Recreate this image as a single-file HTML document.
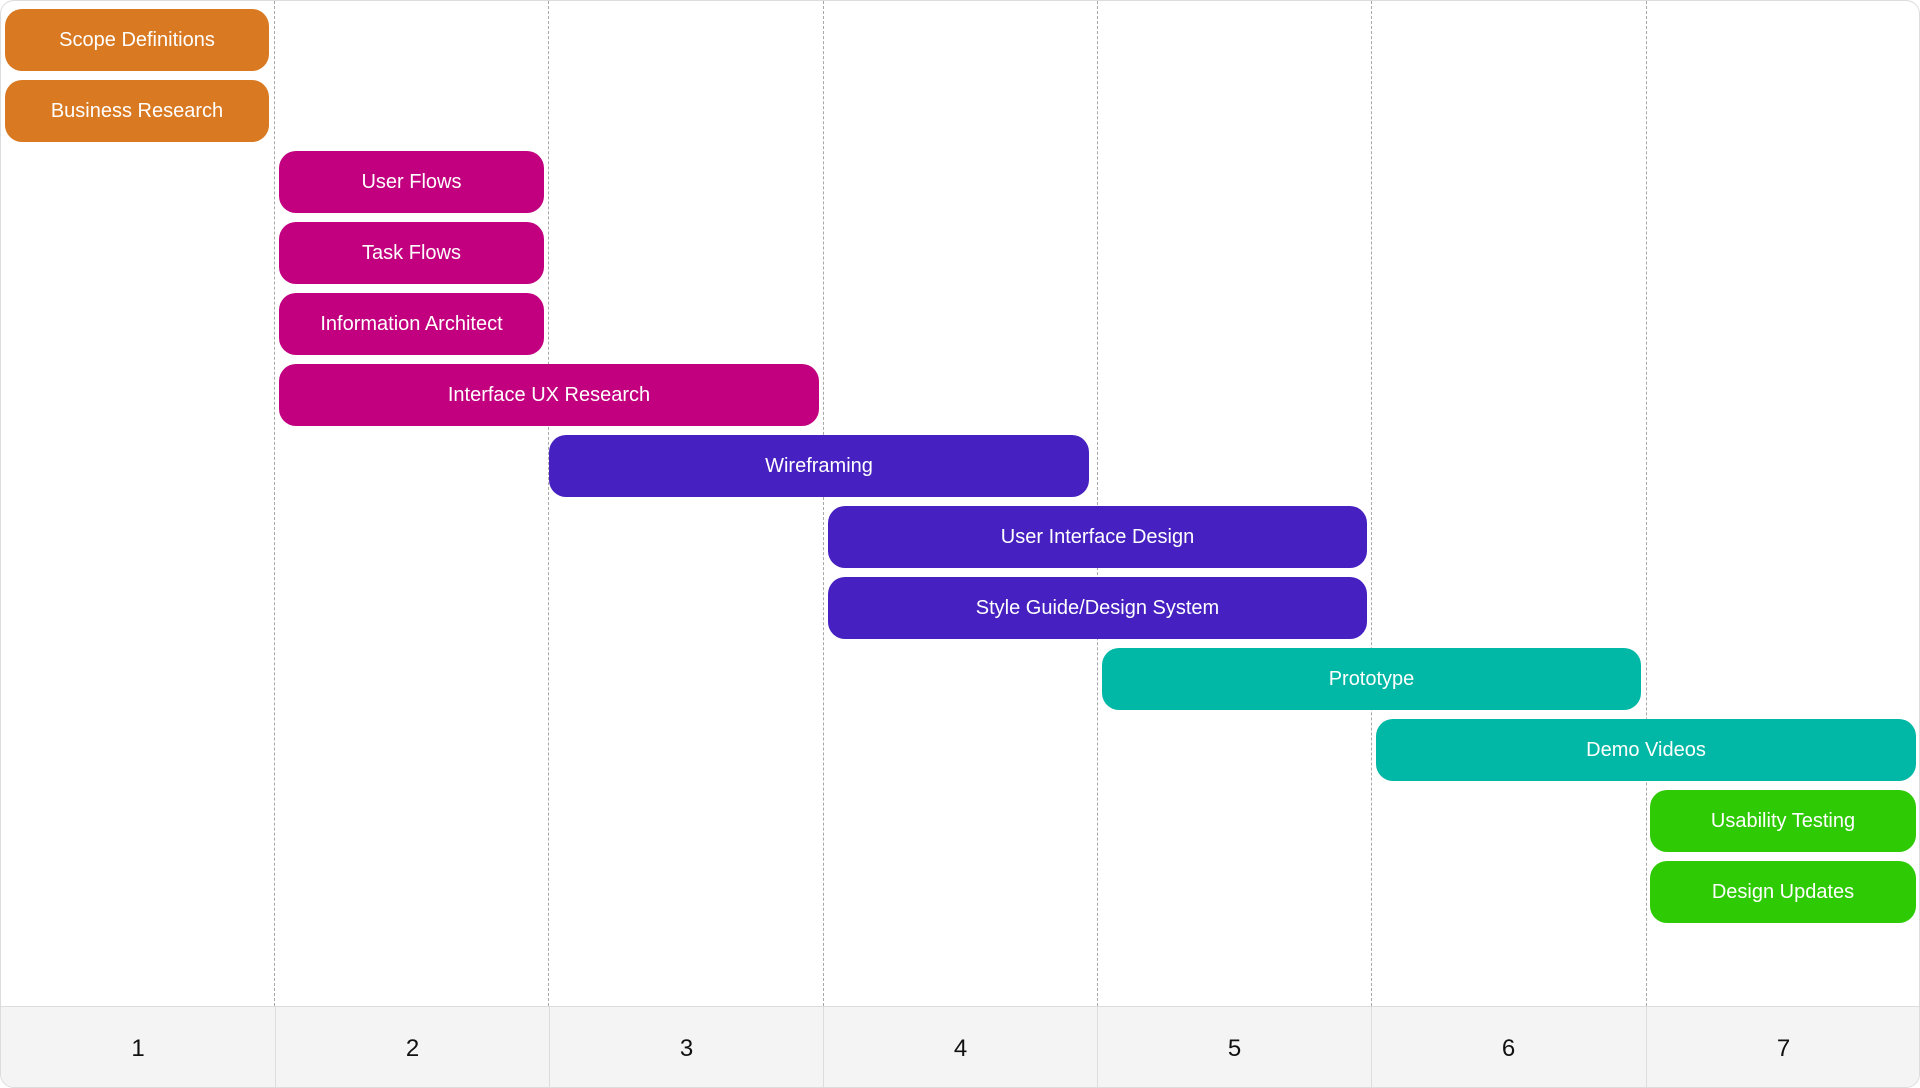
<!DOCTYPE html>
<html><head><meta charset="utf-8"><style>
html,body{margin:0;padding:0;width:1920px;height:1088px;overflow:hidden;background:#fff;font-family:"Liberation Sans",sans-serif}
#f{position:absolute;left:0;top:0;width:1918px;height:1086px;border:1px solid #dcdcdc;border-radius:14px;overflow:hidden}
.v{position:absolute;top:0;height:1005px;border-left:1.5px dashed #a8a8a8}
.ft{position:absolute;left:0;top:1005px;width:1920px;height:83px;background:#f4f4f4;border-top:1.5px solid #dcdcdc}
.c{position:absolute;top:0;height:83px;width:274px;line-height:83px;text-align:center;font-size:24px;color:#111;border-left:1.5px solid #dcdcdc;box-sizing:border-box}
.b{position:absolute;height:62px;border-radius:17px;color:#fff;font-size:20px;line-height:62px;text-align:center;white-space:nowrap}
.o{background:#d97a22}.m{background:#c2007f}.p{background:#4620c0}.t{background:#00b8a5}.g{background:#2ecb05}
</style></head><body><div id="f">
<div class="v" style="left:273px"></div><div class="v" style="left:547px"></div><div class="v" style="left:822px"></div><div class="v" style="left:1096px"></div><div class="v" style="left:1370px"></div><div class="v" style="left:1645px"></div>
<div class="b o" style="left:4px;width:264px;top:8px">Scope Definitions</div>
<div class="b o" style="left:4px;width:264px;top:79px">Business Research</div>
<div class="b m" style="left:278px;width:265px;top:150px">User Flows</div>
<div class="b m" style="left:278px;width:265px;top:221px">Task Flows</div>
<div class="b m" style="left:278px;width:265px;top:292px">Information Architect</div>
<div class="b m" style="left:278px;width:540px;top:363px">Interface UX Research</div>
<div class="b p" style="left:548px;width:540px;top:434px">Wireframing</div>
<div class="b p" style="left:827px;width:539px;top:505px">User Interface Design</div>
<div class="b p" style="left:827px;width:539px;top:576px">Style Guide/Design System</div>
<div class="b t" style="left:1101px;width:539px;top:647px">Prototype</div>
<div class="b t" style="left:1375px;width:540px;top:718px">Demo Videos</div>
<div class="b g" style="left:1649px;width:266px;top:789px">Usability Testing</div>
<div class="b g" style="left:1649px;width:266px;top:860px">Design Updates</div>
<div class="ft">
<div class="c" style="left:0;border-left:none">1</div>
<div class="c" style="left:274px">2</div>
<div class="c" style="left:548px">3</div>
<div class="c" style="left:822px">4</div>
<div class="c" style="left:1096px">5</div>
<div class="c" style="left:1370px">6</div>
<div class="c" style="left:1645px">7</div>
</div>
</div></body></html>
